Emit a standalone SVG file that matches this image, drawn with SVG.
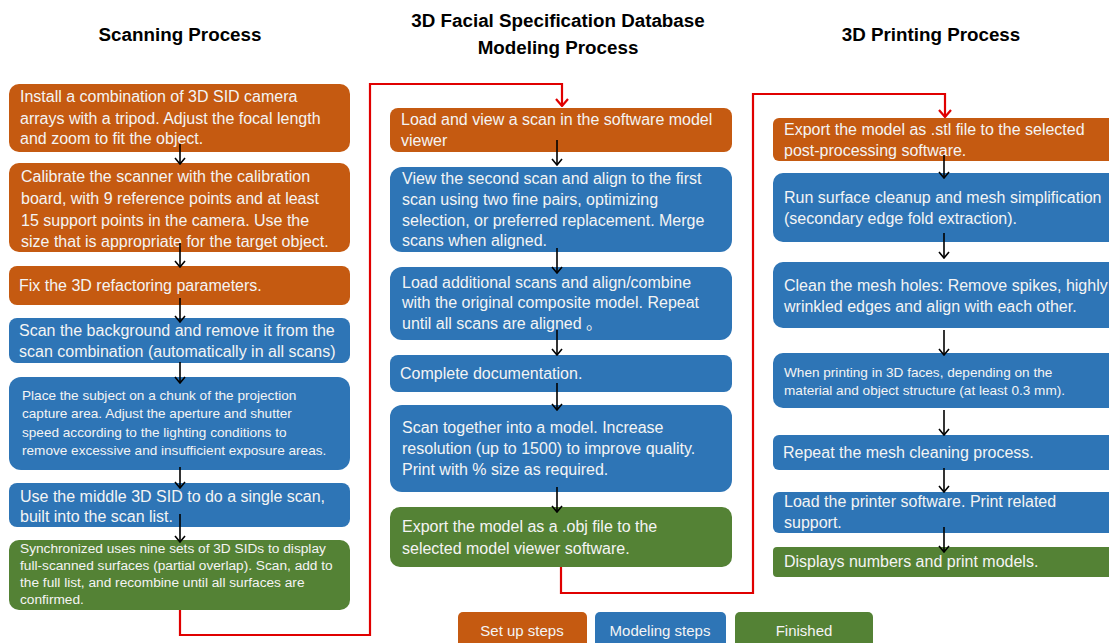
<svg xmlns="http://www.w3.org/2000/svg" width="1109" height="643" viewBox="0 0 1109 643">
<defs>
<marker id="ab" viewBox="0 0 12 12" refX="6" refY="11" markerWidth="12" markerHeight="12" markerUnits="userSpaceOnUse" orient="0">
<path d="M1,5 L6,11 L11,5" fill="none" stroke="#000" stroke-width="1.6"/>
</marker>
<marker id="ar" viewBox="0 0 14 14" refX="7" refY="13" markerWidth="14" markerHeight="14" markerUnits="userSpaceOnUse" orient="0">
<path d="M1,6 L7,13 L13,6" fill="none" stroke="#e00000" stroke-width="2.2"/>
</marker>
</defs>
<style>
.o{fill:#c55a11}
.b{fill:#2e75b6}
.g{fill:#548235}
text{font-family:"Liberation Sans",Arial,sans-serif;fill:#f4f4f4}
.t{font-size:16px}
.s{font-size:13.6px}
.s2{font-size:13.7px}
.h{font-size:18.8px;font-weight:bold;fill:#000;text-anchor:middle}
.lg{font-size:15px;text-anchor:middle}
.ca{stroke:#000;stroke-width:1.6;fill:none;marker-end:url(#ab)}
.ra{stroke:#e00000;stroke-width:2.2;fill:none;marker-end:url(#ar)}
</style>
<rect width="1109" height="643" fill="#fff"/>
<g id="titles">
<text class="h" x="180" y="41">Scanning Process</text>
<text class="h" x="558" y="27">3D Facial Specification Database</text>
<text class="h" x="558" y="54">Modeling Process</text>
<text class="h" x="931" y="41">3D Printing Process</text>
</g>
<g id="L1"><rect class="o" x="9" y="84" width="341" height="68" rx="10"/>
<text class="t" x="20" y="102">Install a combination of 3D SID camera</text>
<text class="t" x="20" y="124">arrays with a tripod. Adjust the focal length</text>
<text class="t" x="20" y="144">and zoom to fit the object.</text></g>
<g id="L2"><rect class="o" x="9" y="163" width="341" height="89" rx="10"/>
<text class="t" x="21" y="182">Calibrate the scanner with the calibration</text>
<text class="t" x="21" y="204">board, with 9 reference points and at least</text>
<text class="t" x="21" y="226">15 support points in the camera. Use the</text>
<text class="t" x="21" y="247">size that is appropriate for the target object.</text></g>
<g id="L3"><rect class="o" x="9" y="266" width="341" height="39" rx="8"/>
<text class="t" x="19" y="291">Fix the 3D refactoring parameters.</text></g>
<g id="L4"><rect class="b" x="9" y="318" width="341" height="45" rx="8"/>
<text class="t" x="19" y="336">Scan the background and remove it from the</text>
<text class="t" x="19" y="357">scan combination (automatically in all scans)</text></g>
<g id="L5"><rect class="b" x="9" y="377" width="341" height="93" rx="12"/>
<text class="s" x="22" y="400">Place the subject on a chunk of the projection</text>
<text class="s" x="22" y="418">capture area. Adjust the aperture and shutter</text>
<text class="s" x="22" y="437">speed according to the lighting conditions to</text>
<text class="s" x="22" y="455">remove excessive and insufficient exposure areas.</text></g>
<g id="L6"><rect class="b" x="9" y="483" width="341" height="44" rx="8"/>
<text class="t" x="20" y="502">Use the middle 3D SID to do a single scan,</text>
<text class="t" x="20" y="522">built into the scan list.</text></g>
<g id="L7"><rect class="g" x="9" y="540" width="341" height="70" rx="10"/>
<text class="s2" x="20" y="553">Synchronized  uses nine sets of 3D SIDs to display</text>
<text class="s2" x="20" y="570">full-scanned surfaces (partial overlap). Scan, add to</text>
<text class="s2" x="20" y="587">the full list, and recombine until all surfaces are</text>
<text class="s2" x="20" y="604">confirmed.</text></g>
<g id="M1"><rect class="o" x="390" y="108" width="342" height="44" rx="8"/>
<text class="t" x="401" y="125">Load and view a scan in the software model</text>
<text class="t" x="401" y="146">viewer</text></g>
<g id="M2"><rect class="b" x="390" y="167" width="342" height="85" rx="12"/>
<text class="t" x="402" y="184">View the second scan and align to the first</text>
<text class="t" x="402" y="205">scan using two fine pairs, optimizing</text>
<text class="t" x="402" y="226">selection, or preferred replacement. Merge</text>
<text class="t" x="402" y="246">scans when aligned.</text></g>
<g id="M3"><rect class="b" x="390" y="267" width="342" height="73" rx="12"/>
<text class="t" x="402" y="288">Load additional scans and align/combine</text>
<text class="t" x="402" y="308">with the original composite model. Repeat</text>
<text class="t" x="402" y="329">until all scans are aligned <tspan font-family="'Noto Sans CJK SC',sans-serif">。</tspan></text></g>
<g id="M4"><rect class="b" x="390" y="355" width="342" height="37" rx="8"/>
<text class="t" x="400" y="379">Complete documentation.</text></g>
<g id="M5"><rect class="b" x="390" y="405" width="342" height="87" rx="12"/>
<text class="t" x="402" y="433">Scan together into a model. Increase</text>
<text class="t" x="402" y="454">resolution (up to 1500) to improve quality.</text>
<text class="t" x="402" y="475">Print with % size as required.</text></g>
<g id="M6"><rect class="g" x="390" y="507" width="342" height="60" rx="10"/>
<text class="t" x="402" y="532">Export the model as a .obj file to the</text>
<text class="t" x="402" y="554">selected model viewer software.</text></g>
<g id="R1"><rect class="o" x="773" y="118" width="350" height="43" rx="6"/>
<text class="t" x="784" y="135">Export the model as .stl file to the selected</text>
<text class="t" x="784" y="156">post-processing software.</text></g>
<g id="R2"><rect class="b" x="773" y="173" width="350" height="69" rx="10"/>
<text class="t" x="784" y="203">Run surface cleanup and mesh simplification</text>
<text class="t" x="784" y="224">(secondary edge fold extraction).</text></g>
<g id="R3"><rect class="b" x="773" y="262" width="350" height="66" rx="10"/>
<text class="t" x="784" y="291">Clean the mesh holes: Remove spikes, highly</text>
<text class="t" x="784" y="312">wrinkled edges and align with each other.</text></g>
<g id="R4"><rect class="b" x="773" y="353" width="350" height="55" rx="10"/>
<text class="s" x="784" y="377">When printing  in 3D faces, depending on the</text>
<text class="s" x="784" y="395">material and object structure (at least 0.3 mm).</text></g>
<g id="R5"><rect class="b" x="773" y="435" width="350" height="35" rx="6"/>
<text class="t" x="783" y="458">Repeat the mesh cleaning process.</text></g>
<g id="R6"><rect class="b" x="773" y="492" width="350" height="41" rx="6"/>
<text class="t" x="784" y="507">Load the printer software. Print related</text>
<text class="t" x="784" y="528">support.</text></g>
<g id="R7"><rect class="g" x="773" y="547" width="350" height="30" rx="4"/>
<text class="t" x="784" y="567">Displays numbers and print models.</text></g>
<g id="legend">
<rect class="o" x="458" y="612" width="129" height="40" rx="5"/>
<text class="lg" x="522" y="636">Set up steps</text>
<rect class="b" x="595" y="612" width="131" height="40" rx="5"/>
<text class="lg" x="660" y="636">Modeling steps</text>
<rect class="g" x="735" y="612" width="138" height="40" rx="5"/>
<text class="lg" x="804" y="636">Finished</text>
</g>
<g id="connectors">
<path class="ca" d="M180,144 V164"/>
<path class="ca" d="M180,243 V267"/>
<path class="ca" d="M180,298 V322"/>
<path class="ca" d="M180,362 V383"/>
<path class="ca" d="M180,467 V488"/>
<path class="ca" d="M180,514 V542"/>
<path class="ca" d="M557,140 V165"/>
<path class="ca" d="M557,248 V273"/>
<path class="ca" d="M557,330 V355"/>
<path class="ca" d="M557,383 V410"/>
<path class="ca" d="M557,487 V512"/>
<path class="ca" d="M944,155 V178"/>
<path class="ca" d="M944,233 V258"/>
<path class="ca" d="M944,330 V355"/>
<path class="ca" d="M944,410 V435"/>
<path class="ca" d="M944,468 V492"/>
<path class="ca" d="M944,527 V552"/>
<path class="ra" d="M180,610 V635 H370 V84 H562 V106"/>
<path class="ra" d="M561,567 V593 H753 V94 H945 V117"/>
</g>
</svg>
